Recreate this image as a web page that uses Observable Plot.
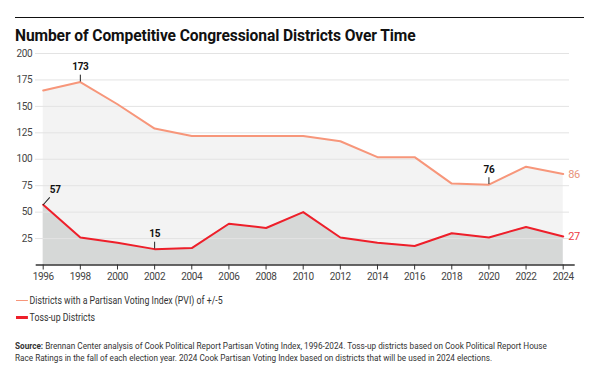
<!DOCTYPE html>
<html><head><meta charset="utf-8">
<script src="https://cdn.jsdelivr.net/npm/d3@7"></script>
<script src="https://cdn.jsdelivr.net/npm/@observablehq/plot@0.6"></script>
<style>
body{margin:0;background:#fff;width:598px;height:380px;position:relative;overflow:hidden;font-family:"Roboto",sans-serif;color:#222}
#rule{position:absolute;left:15px;top:17px;width:569px;border-top:1.6px solid #111}
#title{position:absolute;left:15px;top:27px;font-size:15.6px;font-weight:bold;margin:0;color:#111;white-space:nowrap;letter-spacing:-0.1px}
#chart{position:absolute;left:0;top:45px}
.leg{position:absolute;left:16px;font-size:10.3px;color:#333;white-space:nowrap;display:flex;align-items:center;transform:scaleX(0.85);transform-origin:0 50%}
.sw{display:inline-block;width:14px;margin-right:2px}
#source{position:absolute;left:15px;top:340px;font-size:9.2px;line-height:11.7px;color:#333;width:640px;transform:scaleX(0.89);transform-origin:0 0}
</style></head>
<body>
<div id="rule"></div>
<div id="title">Number of Competitive Congressional Districts Over Time</div>
<div id="chart"></div>
<div class="leg" id="leg1" style="top:294px"></div>
<div class="leg" id="leg2" style="top:311px"></div>
<div id="source"><b>Source:</b>&nbsp;Brennan Center analysis of Cook Political Report Partisan Voting Index, 1996-2024. Toss-up districts based on Cook Political Report House<br>Race Ratings in the fall of each election year. 2024 Cook Partisan Voting Index based on districts that will be used in 2024 elections.</div>
<script>
const years = [1996,1998,2000,2002,2004,2006,2008,2010,2012,2014,2016,2018,2020,2022,2024];
const pvi = [165,173,152,129,122,122,122,122,117,102,102,77,76,93,86];
const tossup = [57,26,21,15,16,39,35,50,26,21,18,30,26,36,27];
const yTicks = [25,50,75,100,125,150,175,200];
const seriesNames = ["Districts with a Partisan Voting Index (PVI) of +/-5","Toss-up Districts"];
const seriesColors = ["#f7967a","#ee1f2a"];
const annYears = [1998,2002,2020];
const annValues = [173,15,76];
const annYears2 = [1996];
const annValues2 = [57];

const dPvi = years.map((y,i)=>({year:y,v:pvi[i]}));
const dToss = years.map((y,i)=>({year:y,v:tossup[i]}));
const ann = annYears.map((y,i)=>({year:y,v:annValues[i]}));
const ann2 = annYears2.map((y,i)=>({year:y,v:annValues2[i]}));
const lastP = dPvi.slice(-1), lastT = dToss.slice(-1);
const font = '"Roboto",sans-serif';
const vShape = {draw(ctx,l){ctx.moveTo(0,-1);ctx.lineTo(0,-l);}};
const dShape = {draw(ctx,l){ctx.moveTo(0,0);ctx.lineTo(0,-l);}};

const chart = Plot.plot({
  width:598, height:245,
  marginTop:8, marginBottom:25.5, marginLeft:42.7, marginRight:35.3,
  style:{fontFamily:font,fontSize:"10px",color:"#444",background:"transparent",letterSpacing:"-0.35px"},
  x:{domain:[1996,2024]},
  y:{domain:[0,200]},
  marks:[
    Plot.areaY(dPvi,{x:"year",y:"v",fill:"#f3f3f3"}),
    Plot.areaY(dToss,{x:"year",y:"v",fill:"#d6d8d7"}),
    Plot.ruleY(yTicks,{stroke:"#e3e3e3",strokeWidth:1,insetLeft:-7.7,insetRight:-6.3}),
    Plot.ruleY([0],{stroke:"#333",strokeWidth:1.4,insetLeft:-7,insetRight:-12}),
    Plot.axisY({ticks:yTicks,tickSize:0,tickPadding:11,label:null}),
    Plot.axisX({ticks:years,tickFormat:d=>String(d),tickSize:5,tickPadding:3,label:null,stroke:"#333"}),
    Plot.line(dPvi,{x:"year",y:"v",stroke:seriesColors[0],strokeWidth:2}),
    Plot.line(dToss,{x:"year",y:"v",stroke:seriesColors[1],strokeWidth:2}),
    Plot.vector(ann,{x:"year",y:"v",length:7,rotate:0,anchor:"start",shape:vShape,stroke:"#222",strokeWidth:1}),
    Plot.text(ann,{x:"year",y:"v",text:d=>String(d.v),dy:-15,fontWeight:"bold",fill:"#111",fontSize:10}),
    Plot.vector(ann2,{x:"year",y:"v",length:9.5,rotate:42,anchor:"start",shape:dShape,stroke:"#222",strokeWidth:1}),
    Plot.text(ann2,{x:"year",y:"v",text:d=>String(d.v),dx:12,dy:-15,fontWeight:"bold",fill:"#111",fontSize:10}),
    Plot.text(lastP,{x:"year",y:"v",text:d=>String(d.v),dx:5,textAnchor:"start",fill:"#e8937a",fontSize:11}),
    Plot.text(lastT,{x:"year",y:"v",text:d=>String(d.v),dx:5,textAnchor:"start",fill:"#ee3a44",fontSize:11})
  ]
});
document.getElementById("chart").appendChild(chart);
[["leg1",1.6],["leg2",2.4]].forEach(([id,w],i)=>{
  const el=document.getElementById(id);
  el.innerHTML=`<span class="sw" style="height:${w}px;background:${seriesColors[i]}"></span><span>${seriesNames[i]}</span>`;
});
</script>
</body></html>
